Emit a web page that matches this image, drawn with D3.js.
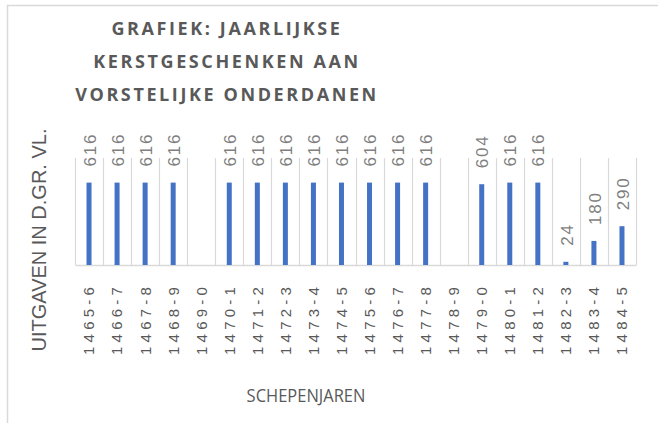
<!DOCTYPE html>
<html><head><meta charset="utf-8">
<script src="https://cdn.jsdelivr.net/npm/d3@7"></script>
<style>
html,body{margin:0;padding:0;background:#fff;}
svg{display:block;}
</style></head>
<body>
<svg id="chart" width="658" height="423"></svg>
<script>
const categories = ["1465-6","1466-7","1467-8","1468-9","1469-0","1470-1","1471-2","1472-3","1473-4","1474-5","1475-6","1476-7","1477-8","1478-9","1479-0","1480-1","1481-2","1482-3","1483-4","1484-5"];
const values = [616,616,616,616,null,616,616,616,616,616,616,616,616,null,604,616,616,24,180,290];
const titleLines = ["GRAFIEK: JAARLIJKSE","KERSTGESCHENKEN AAN","VORSTELIJKE ONDERDANEN"];
const yTitle = "UITGAVEN IN D.GR. VL.";
const xTitle = "SCHEPENJAREN";

(function(){
const svg = d3.select("#chart");
svg.append("rect").attr("x",7.5).attr("y",5.5).attr("width",700).attr("height",500)
  .attr("fill","none").attr("stroke","#d9d9d9").attr("stroke-width",1.5);

const pL=75, pR=636, pT=158, pB=265;
const x = d3.scaleBand().domain(categories).range([pL,pR]).padding(0);
const y = d3.scaleLinear().domain([0,800]).range([pB,pT]);

const edges = categories.map(c=>x(c)).concat([x(categories[categories.length-1])+x.bandwidth()]);
svg.append("g").selectAll("line").data(edges).join("line")
  .attr("x1",d=>Math.round(d)+0.5).attr("x2",d=>Math.round(d)+0.5)
  .attr("y1",pT).attr("y2",pB)
  .attr("stroke","#d9d9d9").attr("stroke-width",1.2);

const xAxis = d3.axisBottom(x).tickSize(0).tickFormat("");
const gx = svg.append("g").attr("transform",`translate(0,${pB})`).call(xAxis);
gx.select(".domain").attr("stroke","#d9d9d9").attr("stroke-width",1.5);

svg.append("g").selectAll("text").data(categories).join("text")
  .attr("transform",d=>`translate(${x(d)+x.bandwidth()/2},${pB+18}) rotate(-90)`)
  .attr("dy","0.36em").attr("text-anchor","end")
  .style("font-family","'Liberation Sans',Arial,sans-serif").style("font-size","15px")
  .style("letter-spacing","4.2px").attr("fill","#595959")
  .text(d=>d);

const bw = 5;
const data = categories.map((c,i)=>({c, v:values[i]})).filter(d=>d.v!=null);
svg.append("g").selectAll("rect").data(data).join("rect")
  .attr("x",d=>x(d.c)+x.bandwidth()/2-bw/2).attr("width",bw)
  .attr("y",d=>y(d.v)).attr("height",d=>pB-y(d.v))
  .attr("fill","#4472c4");

svg.append("g").selectAll("text").data(data).join("text")
  .attr("transform",d=>`translate(${x(d.c)+x.bandwidth()/2+0.5},${y(d.v)-16}) rotate(-90)`)
  .attr("dy","0.36em").attr("text-anchor","start")
  .style("font-family","'Liberation Sans',Arial,sans-serif").style("font-size","17px")
  .style("letter-spacing","1.8px").attr("fill","#7f7f7f")
  .text(d=>d.v);

svg.append("g").selectAll("text").data(titleLines).join("text")
  .attr("x",227).attr("y",(d,i)=>35+i*33)
  .attr("text-anchor","middle")
  .style("font-family","'Open Sans',sans-serif").style("font-weight","bold")
  .style("font-size","18px").style("letter-spacing","2.6px").attr("fill","#595959")
  .text(d=>d);

svg.append("text").attr("transform","translate(38.5,240) rotate(-90)")
  .attr("dy","0.36em").attr("text-anchor","middle")
  .style("font-family","'Liberation Sans',Arial,sans-serif").style("font-size","20px")
  .attr("fill","#595959").text(yTitle);

svg.append("text").attr("transform","translate(306,402) scale(1,1.12)").attr("text-anchor","middle")
  .style("font-family","'Open Sans',sans-serif").style("font-size","16.5px")
  .attr("fill","#595959").text(xTitle);
})();
</script>
</body></html>
